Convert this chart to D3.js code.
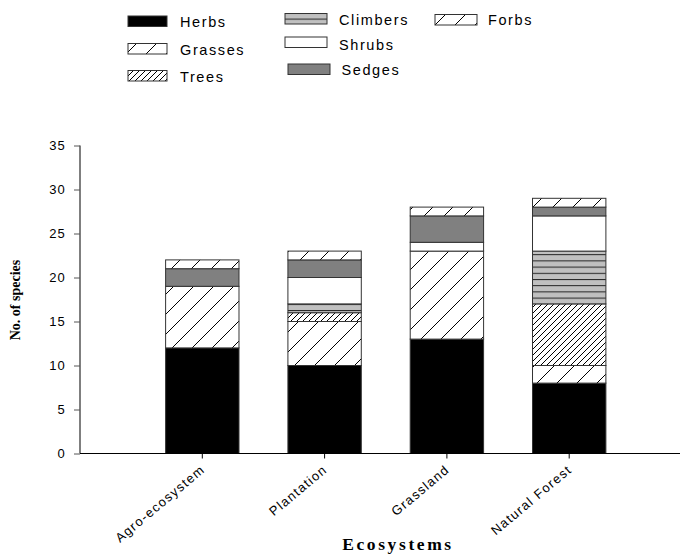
<!DOCTYPE html>
<html>
<head>
<meta charset="utf-8">
<script src="https://cdn.jsdelivr.net/npm/d3@7"></script>
<style>
  html, body { margin: 0; padding: 0; background: #fff; }
  svg { display: block; }
</style>
</head>
<body>
<svg id="chart" width="680" height="554"></svg>
<script>
// ---- data ----
const categories = ["Agro-ecosystem", "Plantation", "Grassland", "Natural Forest"];
const seriesNames = ["Herbs", "Grasses", "Trees", "Climbers", "Shrubs", "Sedges", "Forbs"];
const herbs    = [12, 10, 13, 8];
const grasses  = [7, 5, 10, 2];
const trees    = [0, 1, 0, 7];
const climbers = [0, 1, 0, 6];
const shrubs   = [0, 3, 1, 4];
const sedges   = [2, 2, 3, 1];
const forbs    = [1, 1, 1, 1];
const yTicks   = [0, 5, 10, 15, 20, 25, 30, 35];
const yLabel = "No. of species";
const xLabel = "Ecosystems";

const seriesValues = [herbs, grasses, trees, climbers, shrubs, sedges, forbs];
const table = categories.map((c, i) => {
  const row = { category: c };
  seriesNames.forEach((s, j) => row[s] = seriesValues[j][i]);
  return row;
});

const SANS = "Arial, 'Liberation Sans', sans-serif";
const SERIF = "'Liberation Serif', 'Times New Roman', serif";

const svg = d3.select("#chart").attr("font-family", SANS);

// ---- patterns ----
const defs = svg.append("defs");
function hatch(id, size) {
  const p = defs.append("pattern").attr("id", id)
    .attr("patternUnits", "userSpaceOnUse").attr("width", size).attr("height", size);
  p.append("rect").attr("width", size).attr("height", size).attr("fill", "#fff");
  p.append("path")
    .attr("d", `M0,${size} L${size},0 M${-size/2},${size/2} L${size/2},${-size/2} M${size/2},${size*1.5} L${size*1.5},${size/2}`)
    .attr("stroke", "#000").attr("stroke-width", 1);
}
hatch("pGrass", 20);
hatch("pForb", 20);
hatch("pTree", 6);
const pc = defs.append("pattern").attr("id", "pClimb")
  .attr("patternUnits", "userSpaceOnUse").attr("width", 10).attr("height", 6.2);
pc.append("rect").attr("width", 10).attr("height", 6.2).attr("fill", "#c0c0c0");
pc.append("line").attr("x1", 0).attr("x2", 10).attr("y1", 0.5).attr("y2", 0.5)
  .attr("stroke", "#222").attr("stroke-width", 1);

const fills = {
  Herbs: "#000",
  Grasses: "url(#pGrass)",
  Trees: "url(#pTree)",
  Climbers: "url(#pClimb)",
  Shrubs: "#fff",
  Sedges: "#808080",
  Forbs: "url(#pForb)"
};

// ---- scales ----
const x0 = 80, xEnd = 680;
const step = 122.3;
const x = d3.scaleBand().domain(categories)
  .range([x0 + step * 0.5, x0 + step * 4.5]).paddingInner(0.4).paddingOuter(0.2);
const y = d3.scaleLinear().domain([0, 35]).range([453.5, 145.5]);

// ---- bars ----
const stacked = d3.stack().keys(seriesNames)(table);
const layers = svg.append("g").selectAll("g").data(stacked).join("g")
  .attr("fill", d => fills[d.key]);
layers.selectAll("rect").data(d => d.filter(e => e[1] > e[0])).join("rect")
  .attr("x", d => x(d.data.category))
  .attr("width", x.bandwidth())
  .attr("y", d => y(d[1]))
  .attr("height", d => y(d[0]) - y(d[1]))
  .attr("stroke", "#333").attr("stroke-width", 1);

// ---- y axis ----
const yAxis = d3.axisLeft(y).tickValues(yTicks).tickSize(6).tickPadding(8);
const gy = svg.append("g").attr("transform", `translate(${x0},0)`).call(yAxis)
  .attr("font-family", SANS);
gy.select(".domain").attr("stroke", "#555").attr("stroke-width", 1.5)
  .attr("d", `M0,${y(35)}V${y(0)}`);
gy.selectAll(".tick line").attr("stroke", "#555");
gy.selectAll(".tick text").attr("font-size", 13).attr("letter-spacing", 1.2)
  .attr("fill", "#000");

// ---- x axis ----
const xAxis = d3.axisBottom(x).tickSize(5).tickSizeOuter(0);
const gx = svg.append("g").attr("transform", `translate(0,${y(0)})`).call(xAxis)
  .attr("font-family", SANS);
gx.select(".domain").attr("d", `M${x0},0H${xEnd}`).attr("stroke", "#000").attr("stroke-width", 1.2);
gx.selectAll(".tick text")
  .attr("font-size", 13).attr("letter-spacing", 1.3)
  .attr("fill", "#000")
  .attr("text-anchor", "end")
  .attr("y", 0).attr("dy", 0)
  .attr("transform", "translate(3.5,17.5) rotate(-40)");

// ---- axis titles ----
svg.append("text")
  .attr("transform", "translate(20,300) rotate(-90)")
  .attr("text-anchor", "middle")
  .attr("font-family", SERIF)
  .attr("font-weight", "bold").attr("font-size", 14)
  .text(yLabel);
svg.append("text")
  .attr("x", 398).attr("y", 550)
  .attr("text-anchor", "middle")
  .attr("font-family", SERIF)
  .attr("font-weight", "bold").attr("font-size", 17.5).attr("letter-spacing", 2.6)
  .text(xLabel);

// ---- legend ----
const legendLayout = {
  Herbs:    { sx: 128, sy: 16, sw: 39, tx: 180, ty: 27 },
  Grasses:  { sx: 128, sy: 43.5, sw: 39, tx: 180, ty: 54.5 },
  Trees:    { sx: 128, sy: 70.5, sw: 39, tx: 180, ty: 81.5 },
  Climbers: { sx: 285, sy: 13.5, sw: 42, tx: 339, ty: 25 },
  Shrubs:   { sx: 285, sy: 37, sw: 42, tx: 339, ty: 49.5 },
  Sedges:   { sx: 288, sy: 64, sw: 42, tx: 341.5, ty: 75 },
  Forbs:    { sx: 435, sy: 14.5, sw: 42, tx: 488, ty: 25 }
};
const lg = svg.append("g").selectAll("g").data(seriesNames).join("g");
lg.append("rect")
  .attr("x", d => legendLayout[d].sx).attr("y", d => legendLayout[d].sy)
  .attr("width", d => legendLayout[d].sw).attr("height", 10.5)
  .attr("fill", d => fills[d]).attr("stroke", "#333").attr("stroke-width", 1);
lg.append("text")
  .attr("x", d => legendLayout[d].tx).attr("y", d => legendLayout[d].ty)
  .attr("font-size", 14.5).attr("letter-spacing", 1.6)
  .text(d => d);
</script>
</body>
</html>
